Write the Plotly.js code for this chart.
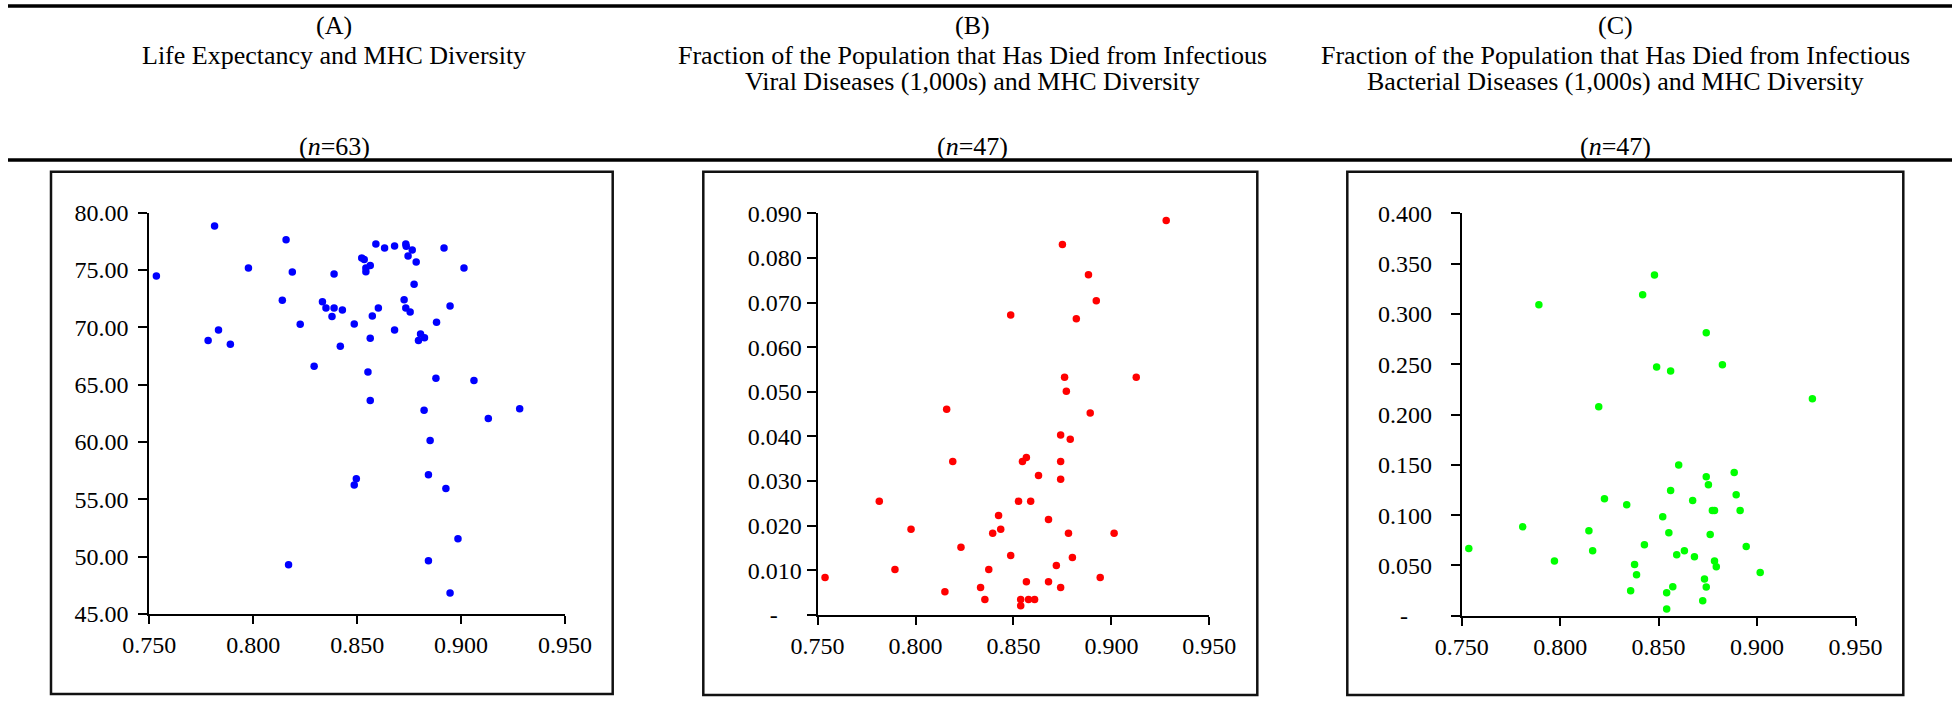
<!DOCTYPE html>
<html>
<head>
<meta charset="utf-8">
<script src="https://cdn.plot.ly/plotly-3.0.1.min.js"></script>
<style>html,body{margin:0;padding:0;background:#fff;}#chart{width:1952px;height:704px;}</style>
</head>
<body>
<div id="chart"></div>
<script>
// ---------- Data ----------
// Panel A: MHC diversity vs life expectancy (n=63)
const mhcA = [0.7534,0.7814,0.7783,0.7833,0.7890,0.7977,0.8140,0.8158,0.8188,0.8170,0.8226,0.8293,0.8333,0.8350,0.8379,0.8389,0.8389,0.8429,0.8419,0.8486,0.8522,0.8534,0.8542,0.8542,0.8563,0.8590,0.8632,0.8680,0.8602,0.8573,0.8563,0.8552,0.8563,0.8486,0.8496,0.8680,0.8726,0.8734,0.8755,0.8734,0.8736,0.8745,0.8765,0.8784,0.8774,0.8795,0.8805,0.8824,0.8822,0.8879,0.8882,0.8918,0.8947,0.9014,0.9062,0.9131,0.9282,0.8851,0.8843,0.8927,0.8985,0.8843,0.8947];
const lifeA = [74.47,78.85,68.86,69.77,68.53,75.18,72.37,77.64,74.83,49.29,70.27,66.61,72.23,71.69,70.95,71.69,74.65,71.52,68.35,70.30,76.04,75.92,75.18,74.86,75.39,77.28,76.93,77.10,71.69,70.98,69.06,66.11,63.62,56.26,56.80,69.77,72.40,71.69,71.34,77.28,77.07,76.22,76.75,75.71,73.76,68.86,69.42,69.09,62.77,65.57,70.45,76.93,71.87,75.18,65.37,62.06,62.91,60.14,57.15,55.94,51.56,49.64,46.83];

// Panel B: viral disease deaths (n=47)
const mhcB = [0.7538,0.7815,0.7895,0.7977,0.8159,0.8150,0.8190,0.8232,0.8332,0.8354,0.8374,0.8394,0.8424,0.8435,0.8486,0.8486,0.8526,0.8537,0.8537,0.8546,0.8566,0.8566,0.8577,0.8588,0.8608,0.8628,0.8679,0.8679,0.8719,0.8741,0.8741,0.8741,0.8741,0.8750,0.8761,0.8770,0.8781,0.8790,0.8801,0.8821,0.8883,0.8892,0.8923,0.8943,0.9014,0.9127,0.9280];
const viralB = [0.00836,0.02546,0.01011,0.01915,0.04606,0.00517,0.03436,0.01513,0.00608,0.00342,0.01011,0.01824,0.02227,0.01915,0.06720,0.01330,0.02546,0.00342,0.00198,0.03436,0.03527,0.00737,0.00342,0.02546,0.00342,0.03124,0.02136,0.00737,0.01102,0.00608,0.03040,0.03436,0.04029,0.08300,0.05328,0.05009,0.01824,0.03937,0.01285,0.06636,0.07624,0.04523,0.07039,0.00836,0.01824,0.05328,0.08840];

// Panel C: bacterial disease deaths (n=47)
const mhcC = [0.7536,0.7810,0.7892,0.7971,0.8146,0.8165,0.8196,0.8225,0.8338,0.8358,0.8378,0.8388,0.8419,0.8428,0.8479,0.8490,0.8521,0.8541,0.8541,0.8552,0.8561,0.8561,0.8572,0.8592,0.8602,0.8631,0.8673,0.8682,0.8724,0.8733,0.8742,0.8742,0.8742,0.8753,0.8762,0.8773,0.8784,0.8784,0.8793,0.8824,0.8884,0.8894,0.8914,0.8945,0.9016,0.9281];
const bactC = [0.0669,0.0884,0.3092,0.0545,0.0844,0.0645,0.2077,0.1163,0.1103,0.0249,0.0508,0.0407,0.3190,0.0706,0.3388,0.2474,0.0985,0.0229,0.0067,0.0824,0.2434,0.1244,0.0289,0.0605,0.1499,0.0645,0.1146,0.0585,0.0148,0.0366,0.0286,0.1382,0.2813,0.1301,0.0807,0.1045,0.1045,0.0545,0.0487,0.2494,0.1425,0.1203,0.1045,0.0689,0.0430,0.2158];

// Tick values / labels
const xTickVals = [0.75,0.80,0.85,0.90,0.95];
const xTickText = ["0.750","0.800","0.850","0.900","0.950"];
const yTickValsA = [45,50,55,60,65,70,75,80];
const yTickTextA = ["45.00","50.00","55.00","60.00","65.00","70.00","75.00","80.00"];
const yTickValsB = [0,0.01,0.02,0.03,0.04,0.05,0.06,0.07,0.08,0.09];
const yTickTextB = ["-\u00a0\u00a0\u00a0\u00a0","0.010","0.020","0.030","0.040","0.050","0.060","0.070","0.080","0.090"];
const yTickValsC = [0,0.05,0.10,0.15,0.20,0.25,0.30,0.35,0.40];
const yTickTextC = ["-\u00a0\u00a0\u00a0\u00a0","0.050","0.100","0.150","0.200","0.250","0.300","0.350","0.400"];

// Titles
const panelLetters = ["(A)","(B)","(C)"];
const titleLine1 = ["Life Expectancy and MHC Diversity",
  "Fraction of the Population that Has Died from Infectious",
  "Fraction of the Population that Has Died from Infectious"];
const titleLine2 = ["",
  "Viral Diseases (1,000s) and MHC Diversity",
  "Bacterial Diseases (1,000s) and MHC Diversity"];
const sampleSizes = [63,47,47];

// ---------- Layout helpers ----------
const W = 1952, H = 704;
const px = v => v / W;
const py = v => 1 - v / H;
const FONT = "Liberation Serif, Times New Roman, serif";

function xAxis(d0, d1, anchor, standoff){
  return {domain:[px(d0),px(d1)], range:[0.75,0.95], anchor:anchor,
    tickvals:xTickVals, ticktext:xTickText, ticks:"outside", ticklen:8, tickwidth:2, tickcolor:"#000",
    showline:true, linecolor:"#000", linewidth:2, showgrid:false, zeroline:false,
    tickfont:{family:FONT,size:24,color:"#000"}, ticklabelstandoff:standoff, fixedrange:true};
}
function yAxis(d0, d1, range, tv, tt, anchor, standoff){
  return {domain:[py(d1),py(d0)], range:range, anchor:anchor,
    tickvals:tv, ticktext:tt, ticks:"outside", ticklen:9, tickwidth:2, tickcolor:"#000",
    showline:true, linecolor:"#000", linewidth:2, showgrid:false, zeroline:false,
    tickfont:{family:FONT,size:24,color:"#000"}, ticklabelstandoff:standoff, fixedrange:true};
}

const traces = [
  {x:mhcA, y:lifeA, xaxis:"x", yaxis:"y", type:"scatter", mode:"markers",
    marker:{color:"#0000FF", size:7.5}, cliponaxis:false},
  {x:mhcB, y:viralB, xaxis:"x2", yaxis:"y2", type:"scatter", mode:"markers",
    marker:{color:"#FF0000", size:7.5}, cliponaxis:false},
  {x:mhcC, y:bactC, xaxis:"x3", yaxis:"y3", type:"scatter", mode:"markers",
    marker:{color:"#00FF00", size:7.5}, cliponaxis:false}
];

const boxes = [[51,171.7,612.7,694],[703.3,171.7,1257.3,695],[1347.3,171.7,1903.3,695]];
const shapes = boxes.map(b => ({type:"rect", xref:"paper", yref:"paper",
  x0:px(b[0]), x1:px(b[2]), y0:py(b[3]), y1:py(b[1]), line:{color:"#111", width:2.5}}));
shapes.push({type:"line", xref:"paper", yref:"paper", x0:px(8), x1:1, y0:py(6), y1:py(6), line:{color:"#000", width:3.5}});
shapes.push({type:"line", xref:"paper", yref:"paper", x0:px(8), x1:1, y0:py(160), y1:py(160), line:{color:"#000", width:3.5}});

const centers = [334, 972, 1615];
const annotations = [];
centers.forEach((cx, i) => {
  const base = {xref:"paper", yref:"paper", x:px(cx), xanchor:"center", yanchor:"middle", showarrow:false,
    font:{family:FONT, size:26, color:"#000"}};
  annotations.push(Object.assign({}, base, {y:py(25), text:panelLetters[i]}));
  annotations.push(Object.assign({}, base, {y:py(55), text:titleLine1[i]}));
  if (titleLine2[i]) annotations.push(Object.assign({}, base, {y:py(82), text:titleLine2[i]}));
  annotations.push(Object.assign({}, base, {y:py(146), text:"(<i>n</i>=" + sampleSizes[i] + ")"}));
});

const layout = {
  width:W, height:H, margin:{l:0,r:0,t:0,b:0}, paper_bgcolor:"#fff", plot_bgcolor:"rgba(0,0,0,0)",
  showlegend:false, hovermode:false,
  xaxis: xAxis(149.3, 565, "y", 8.5),
  yaxis: yAxis(212.7, 614, [45,80], yTickValsA, yTickTextA, "x", 5),
  xaxis2: xAxis(817.6, 1209.3, "y2", 9.5),
  yaxis2: yAxis(213.4, 614.7, [0,0.09], yTickValsB, yTickTextB, "x2", 14.5),
  xaxis3: xAxis(1461.7, 1855.5, "y3", 10.5),
  yaxis3: yAxis(213.4, 615.7, [0,0.4], yTickValsC, yTickTextC, "x3", 14),
  shapes: shapes,
  annotations: annotations
};

Plotly.newPlot("chart", traces, layout, {staticPlot:true, displayModeBar:false});
</script>
</body>
</html>
